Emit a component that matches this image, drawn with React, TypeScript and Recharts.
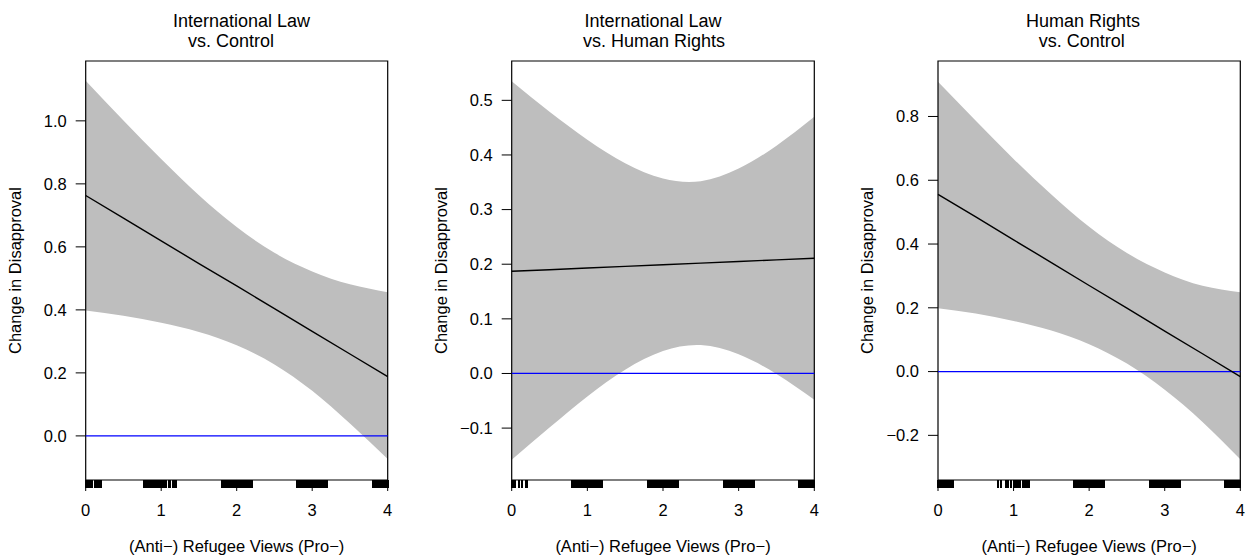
import * as React from "react";
import {
  Area,
  ComposedChart,
  Line,
  ReferenceArea,
  ReferenceLine,
  Scatter,
  XAxis,
  YAxis,
} from "recharts";

// grid of refugee-view values the fitted effects were read at
const xs = [0, 0.5, 1, 1.5, 2, 2.5, 3, 3.5, 4];
const xTicks = [0, 1, 2, 3, 4];

// International Law vs. Control
const ilcFit = [0.763, 0.691, 0.619, 0.547, 0.476, 0.404, 0.332, 0.26, 0.188];
const ilcUpper = [1.127, 1.001, 0.879, 0.764, 0.663, 0.581, 0.522, 0.481, 0.456];
const ilcLower = [0.398, 0.381, 0.359, 0.33, 0.288, 0.227, 0.143, 0.039, -0.073];
const ilcTicks = [0, 0.2, 0.4, 0.6, 0.8, 1.0];

// International Law vs. Human Rights
const ilhFit = [0.187, 0.19, 0.193, 0.196, 0.199, 0.202, 0.205, 0.208, 0.211];
const ilhUpper = [0.535, 0.479, 0.428, 0.385, 0.357, 0.352, 0.375, 0.417, 0.47];
const ilhLower = [-0.158, -0.099, -0.042, 0.007, 0.041, 0.052, 0.035, -0.001, -0.048];
const ilhTicks = [-0.1, 0, 0.1, 0.2, 0.3, 0.4, 0.5];

// Human Rights vs. Control
const hrcFit = [0.556, 0.485, 0.413, 0.342, 0.27, 0.199, 0.127, 0.056, -0.016];
const hrcUpper = [0.909, 0.787, 0.667, 0.555, 0.454, 0.372, 0.311, 0.269, 0.249];
const hrcLower = [0.199, 0.182, 0.159, 0.129, 0.086, 0.025, -0.057, -0.158, -0.275];
const hrcTicks = [-0.2, 0, 0.2, 0.4, 0.6, 0.8];

// rug of observed (jittered) refugee views
const rugTwo = [1.8, 1.82, 1.84, 1.86, 1.88, 1.9, 1.92, 1.94, 1.96, 1.98, 2, 2.02, 2.04, 2.06, 2.08, 2.1, 2.12, 2.14, 2.16, 2.18, 2.2];
const rugThree = [2.8, 2.82, 2.84, 2.86, 2.88, 2.9, 2.92, 2.94, 2.96, 2.98, 3, 3.02, 3.04, 3.06, 3.08, 3.1, 3.12, 3.14, 3.16, 3.18, 3.2];
const rugFour = [3.8, 3.82, 3.84, 3.86, 3.88, 3.9, 3.92, 3.94, 3.96, 3.98, 4];
const ilcRugLow = [0, 0.015, 0.03, 0.06, 0.09, 0.12, 0.15, 0.18, 0.2, 0.77, 0.8, 0.83, 0.85, 0.88, 0.9, 0.93, 0.95, 0.97, 1, 1.02, 1.05, 1.07, 1.1, 1.12, 1.15, 1.18, 1.2];
const ilhRugLow = [0, 0.015, 0.05, 0.1, 0.13, 0.19, 0.2, 0.8, 0.82, 0.84, 0.86, 0.88, 0.9, 0.92, 0.94, 0.96, 0.98, 1, 1.02, 1.04, 1.06, 1.08, 1.1, 1.12, 1.14, 1.16, 1.18, 1.2];
const hrcRugLow = [0, 0.02, 0.04, 0.06, 0.08, 0.1, 0.13, 0.15, 0.17, 0.19, 0.2, 0.8, 0.84, 0.9, 0.93, 0.96, 1, 1.03, 1.06, 1.09, 1.12, 1.14, 1.16, 1.18, 1.2];

const FONT = "'Liberation Sans', Arial, Helvetica, sans-serif";
const H = 560;

type Panel = {
  title: [string, string];
  titleX: [number, number];
  fit: number[];
  upper: number[];
  lower: number[];
  ticks: number[];
  domain: [number, number];
  rug: number[];
  left: number; // chart left on page
  width: number;
  plotLeft: number; // plot box edges on page
  plotRight: number;
};

const panels: Panel[] = [
  {
    title: ["International Law", "vs. Control"],
    titleX: [241.5, 231],
    fit: ilcFit,
    upper: ilcUpper,
    lower: ilcLower,
    ticks: ilcTicks,
    domain: [-0.14, 1.19],
    rug: [...ilcRugLow, ...rugTwo, ...rugThree, ...rugFour],
    left: 0,
    width: 420,
    plotLeft: 85.7,
    plotRight: 387.7,
  },
  {
    title: ["International Law", "vs. Human Rights"],
    titleX: [653, 654],
    fit: ilhFit,
    upper: ilhUpper,
    lower: ilhLower,
    ticks: ilhTicks,
    domain: [-0.195, 0.572],
    rug: [...ilhRugLow, ...rugTwo, ...rugThree, ...rugFour],
    left: 420,
    width: 415,
    plotLeft: 511.7,
    plotRight: 814.3,
  },
  {
    title: ["Human Rights", "vs. Control"],
    titleX: [1083, 1081.7],
    fit: hrcFit,
    upper: hrcUpper,
    lower: hrcLower,
    ticks: hrcTicks,
    domain: [-0.34, 0.974],
    rug: [...hrcRugLow, ...rugTwo, ...rugThree, ...rugFour],
    left: 835,
    width: 410,
    plotLeft: 938,
    plotRight: 1240.3,
  },
];

const PLOT_TOP = 61;
const PLOT_BOTTOM = 480;
const Y_AXIS_W = 60;
const X_AXIS_H = 30;

const fmt = (v: number) => v.toFixed(1).replace("-", "\u2212");

const RugMark = (props: any) => {
  const { cx, cy } = props;
  if (cx == null || cy == null) return null;
  return (
    <line
      x1={cx}
      x2={cx}
      y1={cy}
      y2={cy + 8}
      stroke="#000"
      strokeWidth={2}
      shapeRendering="crispEdges"
    />
  );
};

function EffectPanel({ p }: { p: Panel }) {
  const rows = xs.map((x, i) => ({ x, band: [p.lower[i], p.upper[i]], fit: p.fit[i] }));
  const rugRows = p.rug.map((x) => ({ x, y: p.domain[0] }));
  const margin = {
    top: PLOT_TOP,
    bottom: H - PLOT_BOTTOM - X_AXIS_H,
    left: p.plotLeft - p.left - Y_AXIS_W,
    right: p.left + p.width - p.plotRight,
  };
  return (
    <div style={{ position: "absolute", left: p.left, top: 0 }}>
      <ComposedChart width={p.width} height={H} data={rows} margin={margin}>
        <XAxis
          type="number"
          dataKey="x"
          domain={[0, 4]}
          ticks={xTicks}
          interval={0}
          height={X_AXIS_H}
          axisLine={false}
          stroke="#000"
          tickSize={11}
          tickMargin={13}
          tick={{ fill: "#000", fontSize: 16.5 }}
        />
        <YAxis
          type="number"
          domain={p.domain}
          ticks={p.ticks}
          interval={0}
          width={Y_AXIS_W}
          axisLine={false}
          stroke="#000"
          tickSize={10}
          tickMargin={9}
          tickFormatter={fmt}
          tick={{ fill: "#000", fontSize: 16.5 }}
        />
        <Area
          type="natural"
          dataKey="band"
          fill="#bebebe"
          fillOpacity={1}
          stroke="none"
          isAnimationActive={false}
        />
        <ReferenceLine y={0} stroke="#0000ff" strokeWidth={1.3} />
        <Line
          type="linear"
          dataKey="fit"
          stroke="#000"
          strokeWidth={1.4}
          dot={false}
          isAnimationActive={false}
        />
        <Scatter data={rugRows} dataKey="y" shape={RugMark} isAnimationActive={false} />
        <ReferenceArea
          x1={0}
          x2={4}
          y1={p.domain[0]}
          y2={p.domain[1]}
          fill="none"
          fillOpacity={0}
          stroke="#000"
          strokeWidth={1.2}
          ifOverflow="visible"
        />
      </ComposedChart>
    </div>
  );
}

export default function App() {
  const midY = (PLOT_TOP + PLOT_BOTTOM) / 2;
  return (
    <div
      style={{
        position: "absolute",
        left: 0,
        top: 0,
        width: 1245,
        height: H,
        background: "#fff",
        fontFamily: FONT,
        color: "#000",
      }}
    >
      {panels.map((p, i) => (
        <EffectPanel key={i} p={p} />
      ))}
      <svg
        width={1245}
        height={H}
        style={{ position: "absolute", left: 0, top: 0, pointerEvents: "none" }}
        fontFamily={FONT}
      >
        {panels.map((p, i) => {
          const cx = (p.plotLeft + p.plotRight) / 2;
          const lx = p.plotLeft - 64.7;
          return (
            <g key={i} fill="#000">
              <text x={p.titleX[0]} y={26.7} textAnchor="middle" fontSize={18}>
                {p.title[0]}
              </text>
              <text x={p.titleX[1]} y={46.7} textAnchor="middle" fontSize={18}>
                {p.title[1]}
              </text>
              <text x={cx} y={552} textAnchor="middle" fontSize={16.5}>
                (Anti{"\u2212"}) Refugee Views (Pro{"\u2212"})
              </text>
              <text
                transform={`translate(${lx},${midY}) rotate(-90)`}
                textAnchor="middle"
                fontSize={16.5}
              >
                Change in Disapproval
              </text>
            </g>
          );
        })}
      </svg>
    </div>
  );
}
